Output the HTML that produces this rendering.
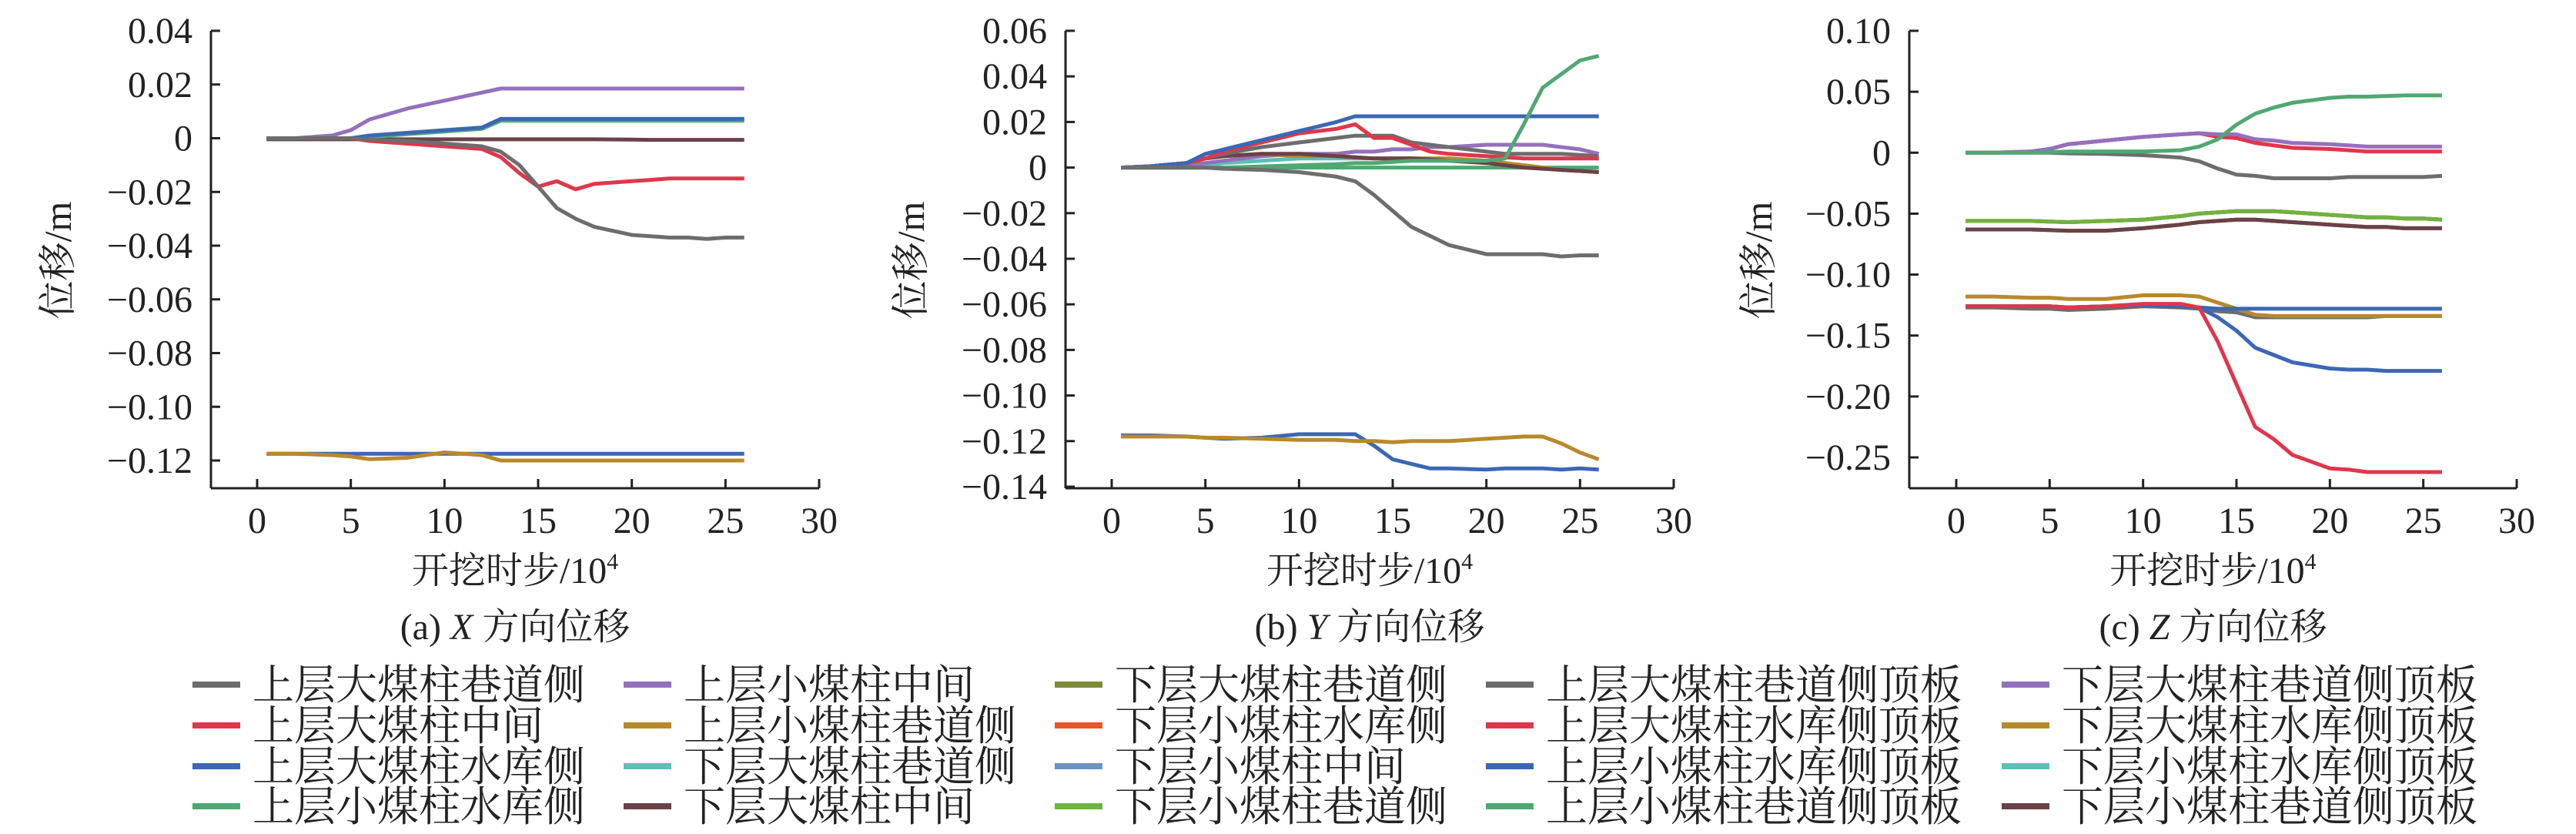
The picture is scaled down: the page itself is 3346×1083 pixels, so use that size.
<!DOCTYPE html>
<html><head><meta charset="utf-8"><style>
html,body{margin:0;padding:0;background:#fff;}
svg{display:block;font-family:"Liberation Serif","Noto Serif CJK SC","Noto Sans CJK SC",serif;}
</style></head><body>
<svg id="chart" width="3346" height="1083" viewBox="0 0 3346 1083" xmlns="http://www.w3.org/2000/svg"></svg>
<script>
const steps=[0.5,2,4,5,6,8,10,12,13,14,15,16,17,18,20,21,22,23,24,25,26];
const xTicks=[0,5,10,15,20,25,30];
const aTicks=[0.04,0.02,0,-0.02,-0.04,-0.06,-0.08,-0.10,-0.12];
const bTicks=[0.06,0.04,0.02,0,-0.02,-0.04,-0.06,-0.08,-0.10,-0.12,-0.14];
const cTicks=[0.10,0.05,0,-0.05,-0.10,-0.15,-0.20,-0.25];
const aTickLabels=["0.04","0.02","0","−0.02","−0.04","−0.06","−0.08","−0.10","−0.12"];
const bTickLabels=["0.06","0.04","0.02","0","−0.02","−0.04","−0.06","−0.08","−0.10","−0.12","−0.14"];
const cTickLabels=["0.10","0.05","0","−0.05","−0.10","−0.15","−0.20","−0.25"];
// Panel A (X)
const aBrown=[-0.0004,-0.0004,-0.0004,-0.0004,-0.0004,-0.0004,-0.0004,-0.0004,-0.0004,-0.0004,-0.0004,-0.0004,-0.0004,-0.0004,-0.0005,-0.0006,-0.0006,-0.0006,-0.0006,-0.0006,-0.0006];
const aPurple=[0,0,0.001,0.003,0.007,0.011,0.014,0.017,0.0185,0.0185,0.0185,0.0185,0.0185,0.0185,0.0185,0.0185,0.0185,0.0185,0.0185,0.0185,0.0185];
const aGreen=[0,0,0,0,0.0005,0.0015,0.0025,0.0035,0.0065,0.0065,0.0065,0.0065,0.0065,0.0065,0.0065,0.0065,0.0065,0.0065,0.0065,0.0065,0.0065];
const aBlue=[0,0,0,0,0.001,0.002,0.003,0.004,0.0072,0.0072,0.0072,0.0072,0.0072,0.0072,0.0072,0.0072,0.0072,0.0072,0.0072,0.0072,0.0072];
const aRed=[0,0,0,0,-0.001,-0.002,-0.003,-0.004,-0.007,-0.013,-0.018,-0.016,-0.019,-0.017,-0.016,-0.0155,-0.015,-0.015,-0.015,-0.015,-0.015];
const aGray=[0,0,0,0,-0.0005,-0.001,-0.002,-0.003,-0.005,-0.010,-0.018,-0.026,-0.030,-0.033,-0.036,-0.0365,-0.037,-0.037,-0.0375,-0.037,-0.037];
const aBlueLow=[-0.1175,-0.1175,-0.1175,-0.1175,-0.1175,-0.1175,-0.1175,-0.1175,-0.1175,-0.1175,-0.1175,-0.1175,-0.1175,-0.1175,-0.1175,-0.1175,-0.1175,-0.1175,-0.1175,-0.1175,-0.1175];
const aGold=[-0.1175,-0.1175,-0.118,-0.1185,-0.1195,-0.119,-0.117,-0.118,-0.120,-0.120,-0.120,-0.120,-0.120,-0.120,-0.120,-0.120,-0.120,-0.120,-0.120,-0.120,-0.120];
// Panel B (Y)
const bGreenFlat=[0,0,0,0,0,0,0,0,0,0,0,0,0,0,0,0,0,0,0,0,0];
const bTeal=[0,0,0,0.001,0.002,0.003,0.004,0.004,0.004,0.004,0.004,0.004,0.004,0.004,0.003,0.002,0.001,0,-0.001,-0.0015,-0.002];
const bPurple=[0,0.0005,0.001,0.002,0.003,0.005,0.006,0.006,0.007,0.007,0.008,0.008,0.009,0.009,0.010,0.010,0.010,0.010,0.009,0.008,0.006];
const bGold=[0,0.0005,0.002,0.004,0.005,0.006,0.005,0.005,0.0045,0.004,0.004,0.004,0.004,0.004,0.003,0.002,0.001,0,-0.001,-0.0015,-0.002];
const bBrown=[0,0.0005,0.002,0.004,0.005,0.006,0.006,0.005,0.0045,0.004,0.004,0.004,0.0035,0.003,0.002,0.001,0,-0.0005,-0.001,-0.0015,-0.002];
const bGray=[0,0.0005,0.002,0.004,0.006,0.009,0.011,0.013,0.014,0.014,0.014,0.011,0.010,0.009,0.007,0.006,0.006,0.006,0.006,0.0055,0.005];
const bRed=[0,0.0005,0.002,0.004,0.007,0.011,0.015,0.017,0.019,0.013,0.013,0.010,0.007,0.006,0.005,0.0045,0.004,0.004,0.004,0.004,0.004];
const bBlue=[0,0.0005,0.002,0.006,0.008,0.012,0.016,0.020,0.0225,0.0225,0.0225,0.0225,0.0225,0.0225,0.0225,0.0225,0.0225,0.0225,0.0225,0.0225,0.0225];
const bGreenUp=[0,0,0,0,0,0.0005,0.001,0.0015,0.002,0.002,0.0025,0.003,0.003,0.003,0.003,0.004,0.019,0.035,0.041,0.047,0.049];
const bGrayDown=[0,0,0,0,-0.0005,-0.001,-0.002,-0.004,-0.006,-0.012,-0.019,-0.026,-0.030,-0.034,-0.038,-0.038,-0.038,-0.038,-0.039,-0.0385,-0.0385];
const bBlueLow=[-0.1175,-0.1175,-0.118,-0.1185,-0.119,-0.1185,-0.117,-0.117,-0.117,-0.122,-0.128,-0.130,-0.132,-0.132,-0.1325,-0.132,-0.132,-0.132,-0.1325,-0.132,-0.1325];
const bGoldLow=[-0.118,-0.118,-0.118,-0.1185,-0.1185,-0.119,-0.1195,-0.1195,-0.120,-0.120,-0.1205,-0.120,-0.120,-0.120,-0.119,-0.1185,-0.118,-0.118,-0.121,-0.125,-0.128];
// Panel C (Z)
const cGreen=[0,0,0,0.0005,0.001,0.001,0.001,0.002,0.005,0.011,0.023,0.032,0.037,0.041,0.045,0.046,0.046,0.0465,0.047,0.047,0.047];
const cPurple=[0,0,0.001,0.003,0.007,0.010,0.013,0.015,0.016,0.015,0.015,0.011,0.010,0.008,0.007,0.006,0.005,0.005,0.005,0.005,0.005];
const cRed=[0,0,0.001,0.003,0.007,0.010,0.013,0.015,0.016,0.013,0.012,0.008,0.006,0.004,0.003,0.002,0.001,0.001,0.001,0.001,0.001];
const cGray=[0,0,0,0,-0.0005,-0.001,-0.002,-0.004,-0.007,-0.013,-0.018,-0.019,-0.021,-0.021,-0.021,-0.020,-0.020,-0.020,-0.020,-0.020,-0.019];
const cMidA=[-0.056,-0.056,-0.056,-0.0565,-0.057,-0.056,-0.055,-0.052,-0.050,-0.049,-0.048,-0.048,-0.048,-0.049,-0.051,-0.052,-0.053,-0.053,-0.054,-0.054,-0.055];
const cMidB=[-0.063,-0.063,-0.063,-0.0635,-0.064,-0.064,-0.062,-0.059,-0.057,-0.056,-0.055,-0.055,-0.056,-0.057,-0.059,-0.060,-0.061,-0.061,-0.062,-0.062,-0.062];
const cGoldLow=[-0.118,-0.118,-0.119,-0.119,-0.120,-0.120,-0.117,-0.117,-0.118,-0.123,-0.128,-0.133,-0.134,-0.134,-0.134,-0.134,-0.134,-0.134,-0.134,-0.134,-0.134];
const cGrayLow=[-0.127,-0.127,-0.128,-0.128,-0.129,-0.128,-0.126,-0.127,-0.128,-0.130,-0.131,-0.135,-0.135,-0.135,-0.135,-0.135,-0.135,-0.134,-0.134,-0.134,-0.134];
const cBlueFlat=[-0.126,-0.126,-0.126,-0.126,-0.127,-0.126,-0.125,-0.126,-0.127,-0.128,-0.128,-0.128,-0.128,-0.128,-0.128,-0.128,-0.128,-0.128,-0.128,-0.128,-0.128];
const cBlueDrop=[-0.126,-0.126,-0.126,-0.126,-0.127,-0.126,-0.125,-0.126,-0.127,-0.135,-0.146,-0.160,-0.166,-0.172,-0.177,-0.178,-0.178,-0.179,-0.179,-0.179,-0.179];
const cRedDrop=[-0.126,-0.126,-0.126,-0.126,-0.127,-0.126,-0.124,-0.124,-0.127,-0.155,-0.19,-0.225,-0.235,-0.248,-0.259,-0.260,-0.262,-0.262,-0.262,-0.262,-0.262];

const legendLabels=["上层大煤柱巷道侧","上层大煤柱中间","上层大煤柱水库侧","上层小煤柱水库侧","上层小煤柱中间","上层小煤柱巷道侧","下层大煤柱巷道侧","下层大煤柱中间","下层大煤柱巷道侧","下层小煤柱水库侧","下层小煤柱中间","下层小煤柱巷道侧","上层大煤柱巷道侧顶板","上层大煤柱水库侧顶板","上层小煤柱水库侧顶板","上层小煤柱巷道侧顶板","下层大煤柱巷道侧顶板","下层大煤柱水库侧顶板","下层小煤柱水库侧顶板","下层小煤柱巷道侧顶板"];
const legendColors=["#6d6d6d","#e0364b","#3c67b4","#4fa872","#9470bd","#b8892c","#5cc0b6","#6b4148","#7f8a3c","#e8562a","#6c92c2","#6fb340","#6d6d6d","#e0364b","#3c67b4","#4fa872","#9470bd","#b8892c","#5cc0b6","#6b4148"];

const NS="http://www.w3.org/2000/svg";
const svg=document.getElementById('chart');
function mk(tag,attrs,parent){const e=document.createElementNS(NS,tag);for(const k in attrs)e.setAttribute(k,attrs[k]);(parent||svg).appendChild(e);return e;}

const panels=[
 {key:'a',axisX:274,x0:334,x30:1064,vTop:0.04,pTop:40,vRef:-0.12,pRef:598,bottom:634,ticks:aTicks,labels:aTickLabels,titleX:75,cap:"(a) ",capI:"X",
  series:[[aBrown,"#6b4148"],[aPurple,"#9470bd"],[aGreen,"#4fa872"],[aBlue,"#3c67b4"],[aRed,"#e0364b"],[aGray,"#6d6d6d"],[aBlueLow,"#3c67b4"],[aGold,"#b8892c"]]},
 {key:'b',axisX:1384,x0:1444,x30:2174,vTop:0.06,pTop:40,vRef:-0.14,pRef:632,bottom:634,ticks:bTicks,labels:bTickLabels,titleX:1183,cap:"(b) ",capI:"Y",
  series:[[bGreenFlat,"#4fa872"],[bTeal,"#5cc0b6"],[bPurple,"#9470bd"],[bGold,"#b8892c"],[bBrown,"#6b4148"],[bGray,"#6d6d6d"],[bRed,"#e0364b"],[bBlue,"#3c67b4"],[bGreenUp,"#4fa872"],[bGrayDown,"#6d6d6d"],[bBlueLow,"#3c67b4"],[bGoldLow,"#b8892c"]]},
 {key:'c',axisX:2480,x0:2541,x30:3269,vTop:0.10,pTop:40,vRef:-0.25,pRef:594,bottom:634,ticks:cTicks,labels:cTickLabels,titleX:2284,cap:"(c) ",capI:"Z",
  series:[[cMidB,"#5cc0b6"],[cMidB,"#b8892c"],[cMidB,"#6b4148"],[cMidA,"#e0364b"],[cMidA,"#7f8a3c"],[cMidA,"#6fb340"],[cGray,"#6d6d6d"],[cRed,"#e0364b"],[cPurple,"#9470bd"],[cGreen,"#4fa872"],[cGrayLow,"#6d6d6d"],[cGoldLow,"#b8892c"],[cBlueFlat,"#3c67b4"],[cBlueDrop,"#3c67b4"],[cRedDrop,"#e0364b"]]}
];

panels.forEach(p=>{
 const g=mk('g',{});
 
 
 const sx=v=>p.x0+(p.x30-p.x0)*v/30;
 const sy=v=>p.pTop+(p.vTop-v)*(p.pRef-p.pTop)/(p.vTop-p.vRef);
 const yAxis=mk('line',{x1:p.axisX,y1:p.pTop,x2:p.axisX,y2:p.bottom,stroke:'#222','stroke-width':3},g);
 
 
 const xAxis=mk('line',{x1:p.axisX,y1:p.bottom,x2:p.x30,y2:p.bottom,stroke:'#222','stroke-width':3},g);
 
 
 p.ticks.forEach((t,i)=>{
  const y=sy(t);
  mk('line',{x1:p.axisX,y1:y,x2:p.axisX+12,y2:y,stroke:'#222','stroke-width':3},g);
  const tx=mk('text',{x:p.axisX-24,y:y+16,'text-anchor':'end','font-size':48,fill:'#222'},g);
  tx.textContent=p.labels[i];
  
  
 });
 xTicks.forEach(t=>{
  const x=sx(t);
  mk('line',{x1:x,y1:p.bottom,x2:x,y2:p.bottom-12,stroke:'#222','stroke-width':3},g);
  const tx=mk('text',{x:x,y:692,'text-anchor':'middle','font-size':48,fill:'#222'},g);
  tx.textContent=String(t);
  
  
 });
 p.series.forEach(([vals,col])=>{
  const pts=vals.map((v,i)=>sx(steps[i]).toFixed(1)+','+sy(v).toFixed(1)).join(' ');
  const pl=mk('polyline',{points:pts,fill:'none',stroke:col,'stroke-width':5,'stroke-linejoin':'round'},g);
  
  
 });
 const cx=(p.axisX+p.x30)/2;
 const yt=mk('text',{x:p.titleX,y:338,'text-anchor':'middle','font-size':50,fill:'#222',transform:`rotate(-90 ${p.titleX} 338)`,'dominant-baseline':'central'},g);
 yt.textContent='位移/m';
 
 
 const xt=mk('text',{x:cx,y:757,'text-anchor':'middle','font-size':48,fill:'#222'},g);
 xt.innerHTML='开挖时步/10<tspan dy="-18" font-size="30">4</tspan>';
 
 
 const cp=mk('text',{x:cx,y:830,'text-anchor':'middle','font-size':48,fill:'#222'},g);
 cp.innerHTML=p.cap+'<tspan font-style="italic">'+p.capI+'</tspan> 方向位移';
 
 
});

const colSw=[250,810,1370,1930,2600];
const rowY=[889,942,995,1047];
legendLabels.forEach((lab,i)=>{
 const c=Math.floor(i/4), r=i%4;
 const g=mk('g',{});
 
 
 mk('rect',{x:colSw[c],y:rowY[r]-4,width:62,height:8,fill:legendColors[i]},g);
 const t=mk('text',{x:colSw[c]+78,y:rowY[r]+19,'font-size':54,fill:'#222'},g);
 t.textContent=lab;
});
</script>
</body></html>
